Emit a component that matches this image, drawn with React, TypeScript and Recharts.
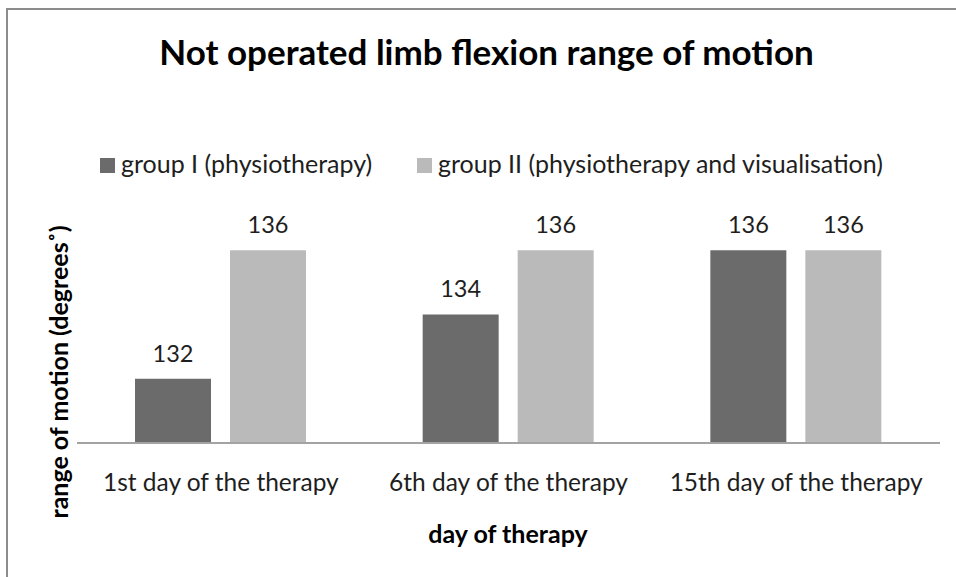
import React from "react";
import { BarChart, Bar, XAxis, YAxis, LabelList } from "recharts";

const categories = ["1st day of the therapy", "6th day of the therapy", "15th day of the therapy"];
const group1Values = [132, 134, 136];
const group2Values = [136, 136, 136];
const seriesNames = ["group I (physiotherapy)", "group II (physiotherapy and visualisation)"];
const seriesColors = ["#6b6b6b", "#bababa"];
const chartTitle = "Not operated limb flexion range of motion";
const xAxisTitle = "day of therapy";
const yAxisTitle = "range of motion (degrees\u02DA)";
const yDomain = [130, 137];

const data = categories.map((c, i) => ({ category: c, g1: group1Values[i], g2: group2Values[i] }));

const FONT = "Lato, 'Open Sans', sans-serif";
const TEXT = "#1e1e1e";

const CategoryTick = (props: any) => {
  const { x, y, payload } = props;
  return (
    <text x={x} y={y + 40} textAnchor="middle" fontFamily={FONT} fontSize={24.5} fill={TEXT}>
      {payload.value}
    </text>
  );
};

const renderValueLabel = (props: any) => {
  const { x, y, width, value } = props;
  return (
    <text x={x + width / 2} y={y - 17} textAnchor="middle" fontFamily={FONT} fontSize={23.5} fill={TEXT}>
      {value}
    </text>
  );
};

export default function App() {
  return (
    <div style={{ position: "fixed", left: 0, top: 0, width: 956, height: 577, background: "#fff", overflow: "hidden" }}>
      <div
        style={{
          position: "absolute",
          left: 6,
          top: 8,
          width: 1000,
          height: 700,
          borderLeft: "2px solid #8c8c8c",
          borderTop: "2px solid #8c8c8c",
        }}
      />
      <BarChart
        width={956}
        height={577}
        data={data}
        margin={{ top: 218, right: 16, bottom: 74, left: 77 }}
        barGap={19}
        barSize={76}
        style={{ position: "absolute", left: 0, top: 0 }}
      >
        <XAxis
          dataKey="category"
          height={60}
          interval={0}
          tickLine={false}
          axisLine={{ stroke: "#a3a3a3", strokeWidth: 2 }}
          tick={CategoryTick}
        />
        <YAxis hide width={0} domain={yDomain} allowDataOverflow />
        <Bar dataKey="g1" name={seriesNames[0]} fill={seriesColors[0]} isAnimationActive={false}>
          <LabelList dataKey="g1" content={renderValueLabel} />
        </Bar>
        <Bar dataKey="g2" name={seriesNames[1]} fill={seriesColors[1]} isAnimationActive={false}>
          <LabelList dataKey="g2" content={renderValueLabel} />
        </Bar>
      </BarChart>
      <svg width={956} height={577} style={{ position: "absolute", left: 0, top: 0, pointerEvents: "none" }}>
        <text x={486.5} y={65} textAnchor="middle" fontFamily={FONT} fontWeight="bold" fontSize={35} fill="#000">
          {chartTitle}
        </text>
        <rect x={100} y={158} width={15} height={15} fill={seriesColors[0]} />
        <text x={121} y={173} fontFamily={FONT} fontSize={25} fill={TEXT}>
          {seriesNames[0]}
        </text>
        <rect x={417} y={158} width={15} height={15} fill={seriesColors[1]} />
        <text x={438} y={173} fontFamily={FONT} fontSize={25} fill={TEXT}>
          {seriesNames[1]}
        </text>
        <text x={508} y={543} textAnchor="middle" fontFamily={FONT} fontWeight="bold" fontSize={25} fill="#000">
          {xAxisTitle}
        </text>
        <text
          x={0}
          y={0}
          transform="translate(68,372) rotate(-90)"
          textAnchor="middle"
          fontFamily={FONT}
          fontWeight="bold"
          fontSize={25}
          fill="#000"
        >
          {yAxisTitle}
        </text>
      </svg>
    </div>
  );
}
